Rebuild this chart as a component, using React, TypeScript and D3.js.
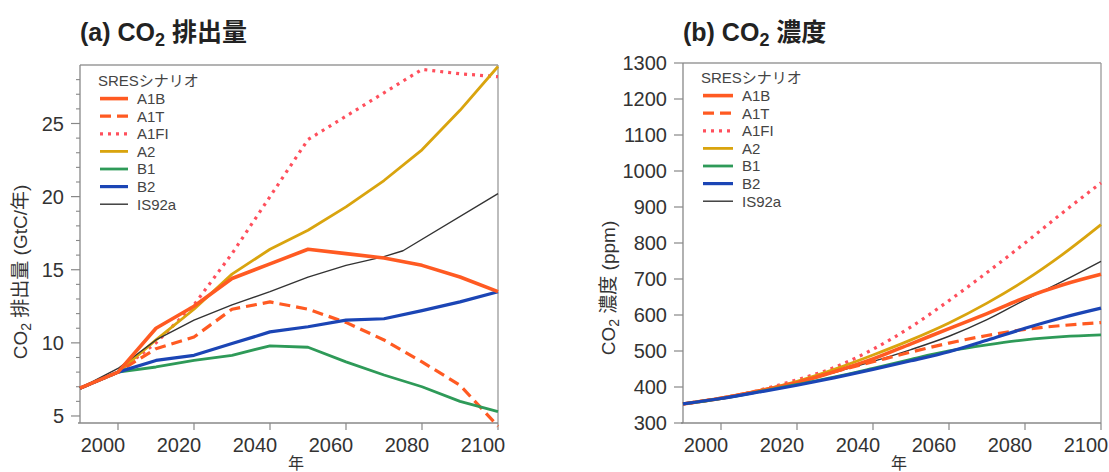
import React from 'react';
import * as d3 from 'd3';

// ---------- data ----------
const years = [1990, 2000, 2010, 2020, 2030, 2040, 2050, 2060, 2070, 2080, 2090, 2100];
const is92aEmissionYears = [1990, 2000, 2010, 2020, 2030, 2040, 2050, 2060, 2070, 2075, 2100];

const emissionA1B = [6.9, 8.0, 11.0, 12.5, 14.4, 15.4, 16.4, 16.1, 15.8, 15.3, 14.5, 13.5];
const emissionA1T = [6.9, 8.0, 9.6, 10.4, 12.3, 12.8, 12.3, 11.4, 10.2, 8.7, 7.1, 4.3];
const emissionA1FI = [6.9, 8.0, 10.0, 12.6, 16.1, 20.0, 23.9, 25.5, 27.1, 28.7, 28.4, 28.2];
const emissionA2 = [6.9, 8.0, 10.2, 12.3, 14.7, 16.4, 17.7, 19.3, 21.1, 23.2, 25.9, 28.9];
const emissionB1 = [6.9, 8.0, 8.35, 8.8, 9.15, 9.8, 9.7, 8.7, 7.8, 7.0, 6.0, 5.3];
const emissionB2 = [6.9, 8.0, 8.8, 9.15, 9.95, 10.75, 11.1, 11.55, 11.65, 12.2, 12.8, 13.5];
const emissionIS92a = [6.9, 8.25, 10.2, 11.55, 12.6, 13.5, 14.5, 15.3, 15.9, 16.3, 20.2];

const concA1B = [353, 369, 389, 412, 443, 478, 520, 562, 604, 648, 684, 713];
const concA1T = [353, 369, 389, 413, 443, 470, 497, 522, 543, 560, 571, 579];
const concA1FI = [353, 369, 391, 420, 455, 505, 567, 640, 718, 800, 885, 967];
const concA2 = [353, 369, 390, 416, 450, 489, 531, 578, 633, 696, 769, 851];
const concB1 = [353, 368, 387, 407, 428, 452, 477, 500, 517, 531, 540, 545];
const concB2 = [353, 368, 386, 405, 426, 449, 473, 498, 530, 563, 593, 619];
const concIS92a = [353, 368, 388, 413, 441, 471, 504, 541, 587, 642, 694, 749];

const scenarios = ['A1B', 'A1T', 'A1FI', 'A2', 'B1', 'B2', 'IS92a'];
const legendTitle = 'SRESシナリオ';
const xTicks = [2000, 2020, 2040, 2060, 2080, 2100];
const emissionTicks = [5, 10, 15, 20, 25];
const emissionMinorTicks = d3.range(5, 29, 1);
const concTicks = d3.range(300, 1301, 100);

// ---------- styles ----------
const styles: Record<string, { color: string; width: number; dash?: string }> = {
  A1B: { color: '#ff5a22', width: 3.6 },
  A1T: { color: '#ff5a22', width: 3.2, dash: '11,6' },
  A1FI: { color: '#ff4f5c', width: 3.2, dash: '3,5' },
  A2: { color: '#d9a40e', width: 2.8 },
  B1: { color: '#2e9a58', width: 2.8 },
  B2: { color: '#1b45b5', width: 3.2 },
  IS92a: { color: '#333333', width: 1.4 },
};

const FONT = '"Liberation Sans", Arial, "Noto Sans CJK JP", sans-serif';
const TXT = '#333';

type Series = { name: string; xs: number[]; ys: number[] };

const emissionSeries: Series[] = [
  { name: 'A1FI', xs: years, ys: emissionA1FI },
  { name: 'A2', xs: years, ys: emissionA2 },
  { name: 'A1T', xs: years, ys: emissionA1T },
  { name: 'B1', xs: years, ys: emissionB1 },
  { name: 'B2', xs: years, ys: emissionB2 },
  { name: 'IS92a', xs: is92aEmissionYears, ys: emissionIS92a },
  { name: 'A1B', xs: years, ys: emissionA1B },
];

const concSeries: Series[] = [
  { name: 'A1FI', xs: years, ys: concA1FI },
  { name: 'A2', xs: years, ys: concA2 },
  { name: 'IS92a', xs: years, ys: concIS92a },
  { name: 'A1B', xs: years, ys: concA1B },
  { name: 'A1T', xs: years, ys: concA1T },
  { name: 'B1', xs: years, ys: concB1 },
  { name: 'B2', xs: years, ys: concB2 },
];

type PanelProps = {
  left: number; right: number; top: number; bottom: number;
  yDomain: [number, number];
  series: Series[];
  yTicks: number[];
  yMinor?: number[];
  curve: d3.CurveFactory;
  titleA: string; titleB: string;
  ylabelA: string; ylabelB: string;
  ylabelX: number; ylabelY: number;
  legendX: number; legendY: number; legendLineLen: number;
};

function Panel(p: PanelProps) {
  const x = d3.scaleLinear().domain([1990, 2100]).range([p.left, p.right]);
  const y = d3.scaleLinear().domain(p.yDomain).range([p.bottom, p.top]);
  const line = (s: Series) =>
    d3.line<number>().x((_, i) => x(s.xs[i])).y((v) => y(v)).curve(p.curve)(s.ys) || '';
  const rowH = 17.6;
  return (
    <g fontFamily={FONT}>
      {/* title */}
      <text x={p.left} y={41} fontSize={25} fontWeight="bold" fill="#222">
        {p.titleA}
        <tspan fontSize={18} dy={5}>2</tspan>
        <tspan dy={-5}> {p.titleB}</tspan>
      </text>
      {/* frame */}
      <line x1={p.left} x2={p.right} y1={p.top} y2={p.top} stroke="#9a9a9a" strokeWidth={1.3} />
      <line x1={p.right} x2={p.right} y1={p.top} y2={p.bottom} stroke="#9a9a9a" strokeWidth={1.3} />
      <line x1={p.left} x2={p.left} y1={p.top} y2={p.bottom} stroke="#888" strokeWidth={1.3} />
      <line x1={p.left - 2} x2={p.right} y1={p.bottom} y2={p.bottom} stroke="#888" strokeWidth={1.3} />
      {/* y minor ticks */}
      {(p.yMinor || []).filter((t) => !p.yTicks.includes(t)).map((t) => (
        <line key={'m' + t} x1={p.left - 4} x2={p.left} y1={y(t)} y2={y(t)} stroke="#888" strokeWidth={1.1} />
      ))}
      {/* y ticks */}
      {p.yTicks.map((t) => (
        <g key={'y' + t}>
          <line x1={p.left - 9} x2={p.left} y1={y(t)} y2={y(t)} stroke="#888" strokeWidth={1.2} />
          <text x={p.left - 16} y={y(t)} dy="0.36em" textAnchor="end" fontSize={20} fill={TXT}>{t}</text>
        </g>
      ))}
      {/* x ticks */}
      {xTicks.map((t) => (
        <g key={'x' + t}>
          <line x1={x(t)} x2={x(t)} y1={p.bottom} y2={p.bottom + 7} stroke="#888" strokeWidth={1.2} />
          <text x={x(t) - 15} y={p.bottom + 29} textAnchor="middle" fontSize={20} fill={TXT}>{t}</text>
        </g>
      ))}
      <text x={(p.left + p.right) / 2 + 7} y={469} textAnchor="middle" fontSize={16} fill={TXT}>年</text>
      {/* y label */}
      <text transform={`translate(${p.ylabelX},${p.ylabelY}) rotate(-90)`} textAnchor="middle" fontSize={19} fill={TXT}>
        CO<tspan fontSize={14} dy={4}>2</tspan><tspan dy={-4}> {p.ylabelA}</tspan>
        <tspan>{p.ylabelB}</tspan>
      </text>
      {/* series */}
      {p.series.map((s) => {
        const st = styles[s.name];
        return (
          <path key={s.name} d={line(s)} fill="none" stroke={st.color} strokeWidth={st.width}
            strokeDasharray={st.dash} strokeLinejoin="round" />
        );
      })}
      {/* legend */}
      <text x={p.legendX - 2} y={p.legendY} dy="0.36em" fontSize={15} fill="#444">{legendTitle}</text>
      {scenarios.map((name, i) => {
        const st = styles[name];
        const yy = p.legendY + rowH * (i + 1);
        return (
          <g key={'lg' + name}>
            <line x1={p.legendX} x2={p.legendX + p.legendLineLen} y1={yy} y2={yy} stroke={st.color}
              strokeWidth={st.width} strokeDasharray={st.dash} />
            <text x={p.legendX + p.legendLineLen + 9} y={yy} dy="0.36em" fontSize={15} fill="#444">{name}</text>
          </g>
        );
      })}
    </g>
  );
}

export default function App() {
  return (
    <svg width={1109} height={472} style={{ position: 'absolute', left: 0, top: 0, background: '#fff' }}>
      <rect x={0} y={0} width={1109} height={472} fill="#fff" />
      <Panel left={80} right={498} top={65} bottom={423} yDomain={[4.52, 29.0]}
        series={emissionSeries} yTicks={emissionTicks} yMinor={emissionMinorTicks} curve={d3.curveLinear}
        titleA="(a) CO" titleB="排出量" ylabelA="排出量 " ylabelB="(GtC/年)" ylabelX={27} ylabelY={272}
        legendX={100} legendY={81} legendLineLen={28} />
      <Panel left={683} right={1101} top={63} bottom={423} yDomain={[300, 1300]}
        series={concSeries} yTicks={concTicks} curve={d3.curveMonotoneX}
        titleA="(b) CO" titleB="濃度" ylabelA="濃度 " ylabelB="(ppm)" ylabelX={615} ylabelY={288}
        legendX={703} legendY={78} legendLineLen={30} />
    </svg>
  );
}
